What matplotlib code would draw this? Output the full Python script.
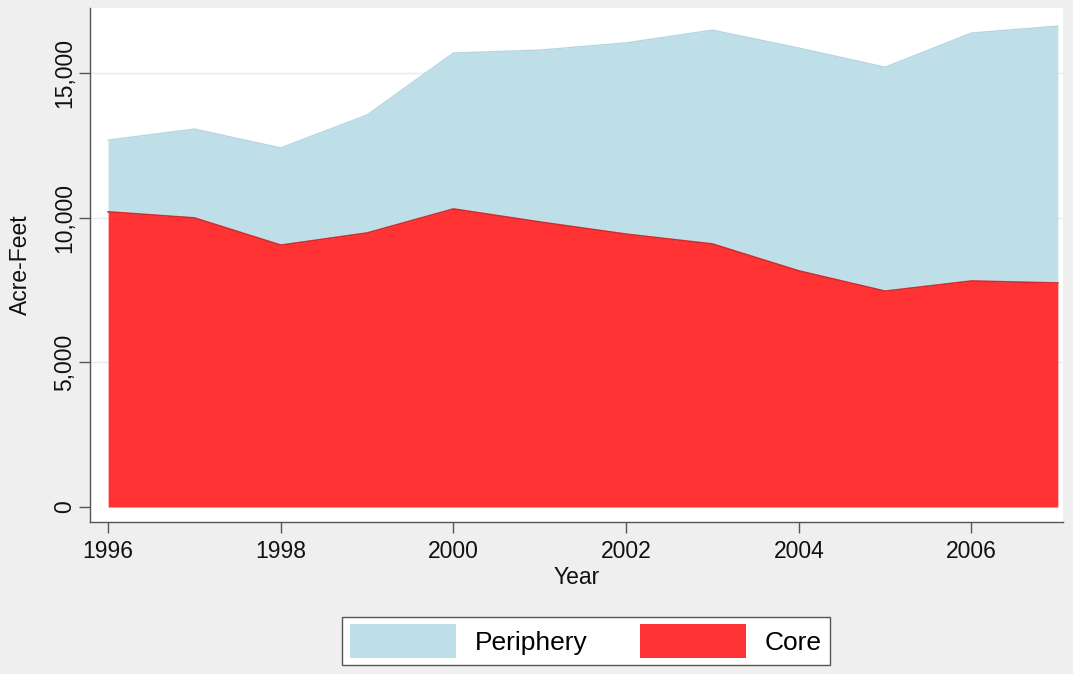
import numpy as np
import matplotlib
matplotlib.use("Agg")
import matplotlib.pyplot as plt
from matplotlib.patches import Patch
from matplotlib.ticker import FuncFormatter

plt.rcParams['font.family'] = ['Liberation Sans', 'DejaVu Sans']

# values (acre-feet)
years = [1996, 1997, 1998, 1999, 2000, 2001, 2002, 2003, 2004, 2005, 2006, 2007]
core = [10200, 9990, 9050, 9470, 10300, 9850, 9430, 9090, 8160, 7460, 7810, 7740]
periphery = [2480, 3070, 3360, 4080, 5390, 5940, 6610, 7390, 7700, 7740, 8570, 8880]
x_ticks = [1996, 1998, 2000, 2002, 2004, 2006]
y_ticks = [0, 5000, 10000, 15000]

core_col = '#FF3333'
peri_col = '#BEDEE8'
bg_col = '#EFEFEF'

yrs = np.array(years)
core_v = np.array(core)
total_v = core_v + np.array(periphery)

fig = plt.figure(figsize=(10.73, 6.74), dpi=100, facecolor=bg_col)
ax = fig.add_axes([90 / 1073, 1 - 522 / 674, (1063 - 90) / 1073, (522 - 8) / 674])
ax.set_facecolor('white')

ax.fill_between(yrs, core_v, total_v, color=peri_col, lw=0, zorder=2)
ax.plot(yrs, total_v, color='#B4D6E0', lw=1, zorder=3)
ax.fill_between(yrs, 0, core_v, color=core_col, lw=0, zorder=2)
ax.plot(yrs, core_v, color='#D42A2A', lw=1.2, zorder=3)

ax.set_xlim(1995.79, 2007.06)
ax.set_ylim(-518, 17245)
ax.set_xticks(x_ticks)
ax.set_yticks(y_ticks)
ax.yaxis.set_major_formatter(FuncFormatter(lambda v, p: f'{int(v):,}'))
for y in y_ticks[1:]:
    ax.axhline(y, color='#EAEAEA', lw=1, zorder=1)

for side in ['top', 'right']:
    ax.spines[side].set_visible(False)
for side in ['left', 'bottom']:
    ax.spines[side].set_color('#555555')
    ax.spines[side].set_linewidth(1)

ax.tick_params(axis='both', direction='out', length=8, width=1, color='#555555',
               labelsize=16.5, labelcolor='#111111')
ax.tick_params(axis='x', pad=5)
ax.tick_params(axis='y', pad=2)
for lab in ax.get_yticklabels():
    lab.set_rotation(90)
    lab.set_va('center')

ax.set_xlabel('Year', fontsize=16.5, color='#111111', labelpad=2)
ax.set_ylabel('Acre-Feet', fontsize=16.5, color='#111111', labelpad=15)

handles = [Patch(facecolor=peri_col, edgecolor='none', label='Periphery'),
           Patch(facecolor=core_col, edgecolor='none', label='Core')]
leg = fig.legend(handles=handles, loc='center', bbox_to_anchor=(586 / 1073, 1 - 641 / 674),
                 ncol=2, fontsize=19, frameon=True, fancybox=False, handlelength=4.0,
                 handleheight=1.55, columnspacing=2.0, handletextpad=0.72, borderpad=0.3,
                 facecolor='white', framealpha=1)
leg.get_frame().set_edgecolor('#555555')
leg.get_frame().set_linewidth(1)

fig.savefig('out.png', dpi=100, facecolor=bg_col)
